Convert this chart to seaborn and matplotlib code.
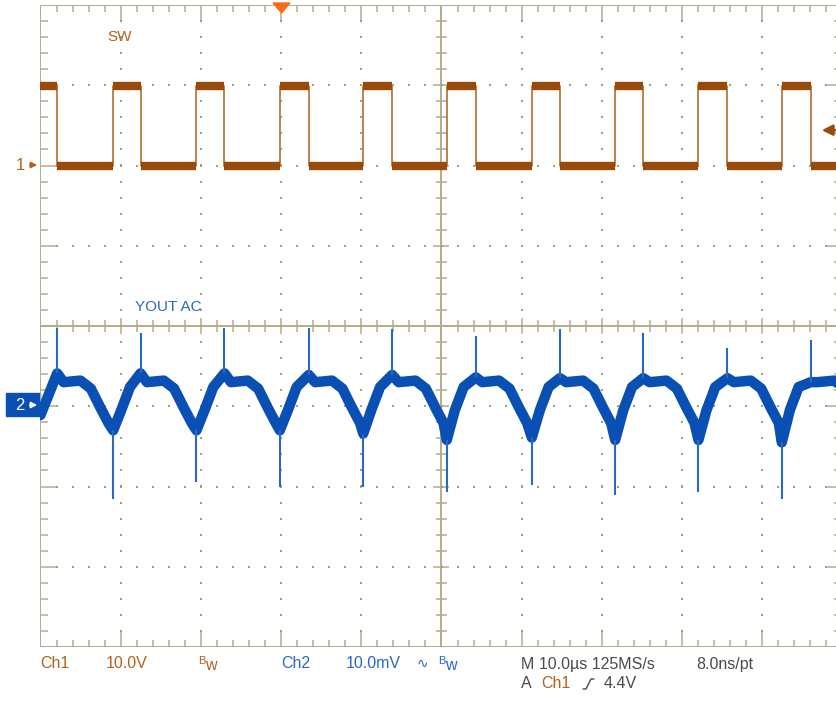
import numpy as np
import pandas as pd
import seaborn as sns
import matplotlib.pyplot as plt
from matplotlib.patches import Polygon, Rectangle
from matplotlib.collections import LineCollection

# ---- data ----
# Ch1 (SW) edges, microseconds from the left edge of the screen
sw_rise_us = [-1.30, 9.06, 19.45, 29.84, 40.24, 50.66, 61.26, 71.66, 82.04, 92.43, 102.80]
sw_fall_us = [2.08, 12.47, 22.94, 33.45, 43.85, 54.28, 64.75, 75.15, 85.66, 96.05]
sw_high_v = 9.9
sw_low_v = -0.1

# Ch2 (VOUT AC), mV
vout_start_mv = -1.1
vout_peak_mv = [4.1, 4.1, 4.1, 3.9, 3.9, 3.6, 3.5, 3.5, 3.5, 3.0]          # at each SW fall
vout_trough_mv = [-3.0, -3.0, -3.0, -3.4, -4.2, -3.9, -4.2, -4.2, -4.5]    # at each SW rise
spike_up_mv = [9.7, 9.1, 9.8, 9.8, 9.6, 8.8, 9.6, 9.1, 7.2, 8.3]
spike_dn_mv = [-11.5, -9.5, -10.1, -10.1, -10.7, -9.8, -11.0, -10.7, -11.5]
# ripple shape between edges
decay_after_fall_us = [0.8, 2.9, 4.2, 5.4, 6.4]
decay_mv = [3.0, 3.2, 2.2, -0.2, -2.1]
rise_after_trough_us = [1.0, 2.1]
rise_mv = [-0.5, 2.4]

ch1_v_per_div = 10.0
ch2_mv_per_div = 10.0
ch1_pos_div = 2.0
ch2_pos_div = -1.0
trig_level_v = 4.4

# ---- colours ----
sw_band = "#9a4a08"
sw_edge = "#b8783c"
sw_text = "#b0621e"
vo_band = "#0a50b4"
vo_spike = "#2a68c4"
vo_text = "#2a66cc"
grid_c = "#b3ac8c"
dot_c = "#a39d85"
gray_text = "#4a4a4a"
trig_c = "#ff6a1a"

sns.set_style("white")
plt.rcParams['font.family'] = ['Liberation Sans', 'DejaVu Sans']

W, H = 837, 709
fig = plt.figure(figsize=(W / 100, H / 100), dpi=100)
fig.patch.set_facecolor("white")
ax = fig.add_axes([40.5 / W, 62 / H, 802 / W, 642 / H])
ax.set_xlim(0, 10)
ax.set_ylim(-4, 4)
ax.axis("off")

PX = 1 / 80.2  # one pixel in division units

# ---- graticule ----
segs_minor = []
for i in range(51):
    x = i * 0.2
    big = (i % 5 == 0)
    L = (16 if big else 7) * PX
    segs_minor.append([(x, 4), (x, 4 - L)])
    segs_minor.append([(x, -4), (x, -4 + L)])
    c = (8 if big else 6) * PX
    segs_minor.append([(x, -c), (x, c)])
for i in range(41):
    y = -4 + i * 0.2
    big = (i % 5 == 0)
    L = (16 if big else 8) * PX
    segs_minor.append([(0, y), (L, y)])
    segs_minor.append([(10, y), (10 - L, y)])
    c = (8 if big else 6) * PX
    segs_minor.append([(5 - c, y), (5 + c, y)])
ax.add_collection(LineCollection(segs_minor, colors=grid_c, linewidths=1.1))
segs_major = [[(0, -4), (0, 4)], [(10, -4), (10, 4)], [(0, 4), (10, 4)], [(0, -4), (10, -4)],
              [(5, -4), (5, 4)], [(0, 0), (10, 0)]]
ax.add_collection(LineCollection(segs_major, colors=grid_c, linewidths=1.4))

dx, dy = [], []
for xv in [1, 2, 3, 4, 6, 7, 8, 9]:
    for yv in np.arange(-3.8, 3.81, 0.2):
        dx.append(xv); dy.append(yv)
for yv in [-3, -2, -1, 1, 2, 3]:
    for xv in np.arange(0.2, 9.81, 0.2):
        dx.append(xv); dy.append(yv)
ax.plot(dx, dy, ls="none", marker="s", ms=1.6, mew=0, color=dot_c)

# ---- Ch1 SW trace ----
events = sorted([(t, sw_high_v) for t in sw_rise_us] + [(t, sw_low_v) for t in sw_fall_us])
pts = [(-5.0, sw_low_v)]
for t, lvl in events:
    pts.append((t, pts[-1][1]))
    pts.append((t, lvl))
pts.append((110.0, pts[-1][1]))
sw = pd.DataFrame(pts, columns=["t", "v"])
sw["x"] = sw["t"] / 10
sw["y"] = sw["v"] / ch1_v_per_div + ch1_pos_div
sns.lineplot(data=sw, x="x", y="y", sort=False, estimator=None, color=sw_edge, lw=1.3, ax=ax)
for a, b in zip(sw_rise_us, sw_fall_us):
    ax.hlines(sw_high_v / ch1_v_per_div + ch1_pos_div, a / 10, b / 10, color=sw_band, lw=6, capstyle="butt")
for a, b in zip(sw_fall_us, sw_rise_us[1:]):
    ax.hlines(sw_low_v / ch1_v_per_div + ch1_pos_div, a / 10, b / 10, color=sw_band, lw=6, capstyle="butt")

# ---- Ch2 VOUT trace ----
vp = [(0.0, vout_start_mv)]
for i, tf in enumerate(sw_fall_us):
    vp.append((tf, vout_peak_mv[i]))
    for o, m in zip(decay_after_fall_us, decay_mv):
        vp.append((tf + o, m))
    if i + 1 < len(sw_rise_us) - 1:
        tr = sw_rise_us[i + 1]
        vp.append((tr, vout_trough_mv[i]))
        for o, m in zip(rise_after_trough_us, rise_mv):
            vp.append((tr + o, m))
vo = pd.DataFrame(vp, columns=["t", "mv"])
vo["x"] = vo["t"] / 10
vo["y"] = vo["mv"] / ch2_mv_per_div + ch2_pos_div
sns.lineplot(data=vo, x="x", y="y", sort=False, estimator=None, color=vo_band, lw=7.5,
             solid_joinstyle="round", ax=ax)
for tf, pk, sp in zip(sw_fall_us, vout_peak_mv, spike_up_mv):
    ax.vlines(tf / 10, pk / ch2_mv_per_div + ch2_pos_div, sp / ch2_mv_per_div + ch2_pos_div,
              color=vo_spike, lw=1.5)
for tr, tg, sp in zip(sw_rise_us[1:-1], vout_trough_mv, spike_dn_mv):
    ax.vlines(tr / 10, tg / ch2_mv_per_div + ch2_pos_div, sp / ch2_mv_per_div + ch2_pos_div,
              color=vo_spike, lw=1.5)
if ax.get_legend():
    ax.get_legend().remove()
ax.set_xlim(0, 10)
ax.set_ylim(-4, 4)


def fp(x, y):
    return (x / W, 1 - y / H)


# ---- channel labels on screen ----
fig.text(*fp(107, 37), "SW", color=sw_text, fontsize=11, va="center")
fig.text(*fp(135, 307), "YOUT AC", color=vo_text, fontsize=11, va="center")

# ground markers
fig.text(*fp(20, 165), "1", color=sw_text, fontsize=12, va="center", ha="center")
ax.annotate("", xy=(40, H - 165), xytext=(27, H - 165), xycoords="figure pixels",
            textcoords="figure pixels",
            arrowprops=dict(arrowstyle="-|>", color=sw_text, lw=1.2, mutation_scale=9))
fig.patches.append(Rectangle((6, H - 416), 34, 23, transform=None, facecolor=vo_band,
                             edgecolor=vo_band, figure=fig, zorder=-1))
fig.text(*fp(20, 405), "2", color="white", fontsize=12, va="center", ha="center")
ax.annotate("", xy=(40, H - 405), xytext=(27, H - 405), xycoords="figure pixels",
            textcoords="figure pixels", annotation_clip=False, zorder=10,
            arrowprops=dict(arrowstyle="-|>", color="white", lw=1.2, mutation_scale=9))

# trigger position and level
fig.patches.append(Polygon([(273, H - 3), (290, H - 3), (281.5, H - 13)], closed=True,
                           transform=None, facecolor=trig_c, edgecolor=trig_c, figure=fig))
ty = 326 - (trig_level_v / ch1_v_per_div + ch1_pos_div) * 80.25
ax.annotate("", xy=(819, H - ty), xytext=(838, H - ty), xycoords="figure pixels",
            textcoords="figure pixels",
            arrowprops=dict(arrowstyle="-|>", color=sw_band, lw=1.8, mutation_scale=16))

# ---- readout under the screen ----
fs = 11.5
row1, row2 = 664, 683
fig.text(*fp(40, row1), "Ch1", color=sw_text, fontsize=fs, va="center")
fig.text(*fp(106, row1), "10.0V", color=sw_text, fontsize=fs, va="center")
fig.text(*fp(198, row1 - 3), "B", color=sw_text, fontsize=8, va="center")
fig.text(*fp(205, row1 + 1), "w", color=sw_text, fontsize=fs, va="center")
fig.text(*fp(281, row1), "Ch2", color=vo_text, fontsize=fs, va="center")
fig.text(*fp(346, row1), "10.0mV", color=vo_text, fontsize=fs, va="center")
fig.text(*fp(417, row1), "\u223f", color=vo_text, fontsize=10, va="center")
fig.text(*fp(438, row1 - 3), "B", color=vo_text, fontsize=8, va="center")
fig.text(*fp(445, row1 + 1), "w", color=vo_text, fontsize=fs, va="center")
fig.text(*fp(521, row1), "M 10.0\u00b5s 125MS/s", color=gray_text, fontsize=fs, va="center")
fig.text(*fp(696, row1), "8.0ns/pt", color=gray_text, fontsize=fs, va="center")
fig.text(*fp(521, row2), "A", color=gray_text, fontsize=fs, va="center")
fig.text(*fp(541, row2), "Ch1", color=sw_text, fontsize=fs, va="center")
fig.lines.append(plt.Line2D([583 / W, 586 / W, 591 / W, 594 / W],
                            [1 - 689 / H, 1 - 689 / H, 1 - 679 / H, 1 - 679 / H],
                            transform=fig.transFigure, color=gray_text, lw=1.0, figure=fig))
fig.text(*fp(604, row2), "4.4V", color=gray_text, fontsize=fs, va="center")

fig.savefig("out.png", dpi=100)
